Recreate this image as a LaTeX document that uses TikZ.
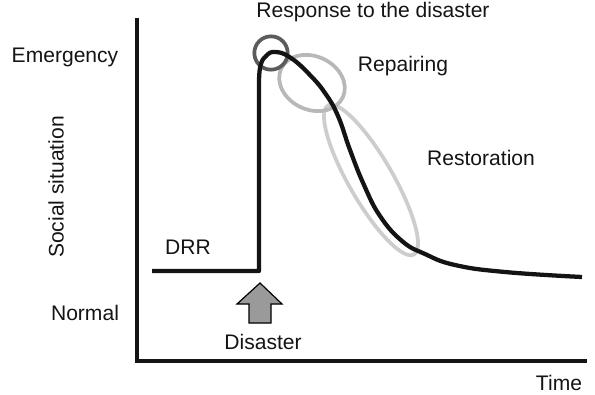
\documentclass[tikz,border=0pt]{standalone}
\usepackage{fontspec}
\setmainfont{Liberation Sans}
\usetikzlibrary{shapes.geometric}
\definecolor{inkc}{HTML}{141414}
\definecolor{ringdark}{HTML}{5C5C5C}
\definecolor{ringmid}{HTML}{B8B8B8}
\definecolor{ringsoft}{HTML}{CDCDCD}
\definecolor{arrowc}{HTML}{9A9A9A}
\tikzset{
  lbl/.style={font=\fontsize{15.8}{19}\selectfont, text=inkc, inner sep=0pt},
  ring/.style={draw, ellipse, line width=2.8pt, inner sep=0pt}
}

\begin{document}
\begin{tikzpicture}[x=0.75pt, y=-0.75pt]
  \useasboundingbox (0,0) rectangle (595,394);
  % axes
  \coordinate (top) at (137,18);
  \coordinate (origin) at (137,361);
  \coordinate (tend) at (587,361);
  \draw[line width=3.6pt, inkc] (top) -- (origin) -- (tend);
  % labels
  \node[lbl] (emerg) at (65,57) {Emergency};
  \node[lbl] (normal) at (85,313) {Normal};
  \node[lbl, rotate=90] (social) at (56,187) {Social situation};
  \node[lbl] (time) at (559,383) {Time};
  \node[lbl] (drr) at (188,247) {DRR};
  \node[lbl] (disaster) at (263,342) {Disaster};
  \node[lbl] (resp) at (373,12) {Response to the disaster};
  \node[lbl] (repair) at (403,66) {Repairing};
  \node[lbl] (restore) at (481,158) {Restoration};
  % rings
  \node[ring, ringsoft, minimum width=129pt, minimum height=33pt, rotate=-60] (restring) at (371,180) {};
  \node[ring, ringmid, minimum width=51pt, minimum height=40pt, rotate=-25] (repring) at (312,83) {};
  \node[ring, ringdark, circle, minimum size=25pt] (respring) at (271,53) {};
  % social situation curve
  \draw[line width=3.2pt, inkc, line join=round] (152,271) -- (259,271) -- (259,92)
    plot[smooth, tension=0.75] coordinates {(259,92) (260,68) (266,56) (276,52)
      (291,58) (309,74) (325,93) (338,116) (350,150) (364,185) (380,216)
      (402,241) (425,254) (455,265) (505,272) (582,277)};
  % disaster arrow
  \draw[line width=0.9pt, fill=arrowc] (260,283) -- (282,304) -- (271,304) -- (271,323)
    -- (249,323) -- (249,304) -- (237,304) -- cycle;
\end{tikzpicture}
\end{document}
